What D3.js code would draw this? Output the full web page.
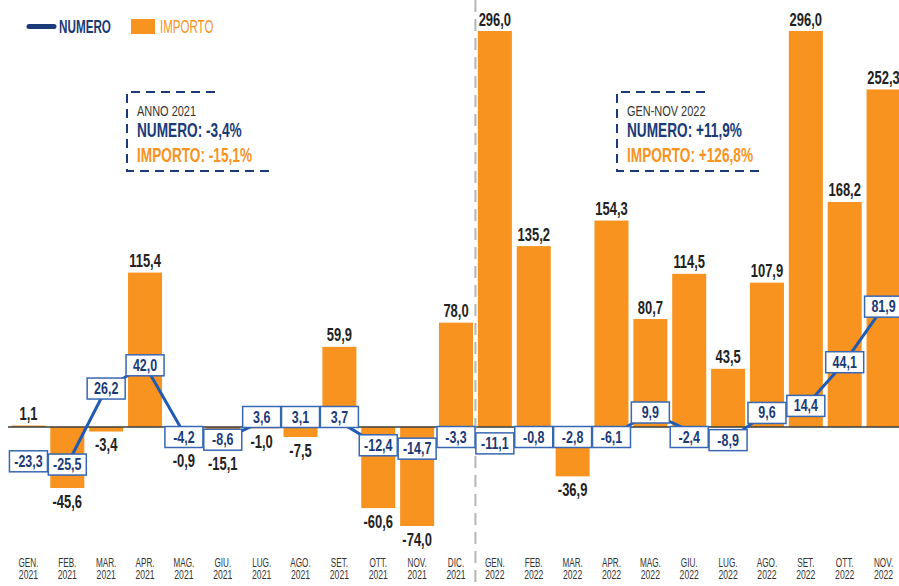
<!DOCTYPE html>
<html>
<head>
<meta charset="utf-8">
<script src="https://cdn.jsdelivr.net/npm/d3@7"></script>
<style>
  body { margin: 0; background: #fff; }
  svg { display: block; font-family: "Liberation Sans", Arial, sans-serif; }
</style>
</head>
<body>
<svg id="chart"></svg>
<script>
// size
const width = 899;
const height = 586;

// data
const mesi = ["GEN.", "FEB.", "MAR.", "APR.", "MAG.", "GIU.", "LUG.", "AGO.", "SET.", "OTT.", "NOV.", "DIC.",
              "GEN.", "FEB.", "MAR.", "APR.", "MAG.", "GIU.", "LUG.", "AGO.", "SET.", "OTT.", "NOV."];
const anni = ["2021", "2021", "2021", "2021", "2021", "2021", "2021", "2021", "2021", "2021", "2021", "2021",
              "2022", "2022", "2022", "2022", "2022", "2022", "2022", "2022", "2022", "2022", "2022"];
const importo = [1.1, -45.6, -3.4, 115.4, -0.9, -15.1, -1.0, -7.5, 59.9, -60.6, -74.0, 78.0,
                 296.0, 135.2, -36.9, 154.3, 80.7, 114.5, 43.5, 107.9, 296.0, 168.2, 252.3];
const numero = [-23.3, -25.5, 26.2, 42.0, -4.2, -8.6, 3.6, 3.1, 3.7, -12.4, -14.7, -3.3,
                -11.1, -0.8, -2.8, -6.1, 9.9, -2.4, -8.9, 9.6, 14.4, 44.1, 81.9];
const riepilogoTitoli = ["ANNO 2021", "GEN-NOV 2022"];
const riepilogoNumero = ["NUMERO: -3,4%", "NUMERO: +11,9%"];
const riepilogoImporto = ["IMPORTO: -15,1%", "IMPORTO: +126,8%"];

// colours
const orange = "#f7931e";
const navy = "#1b3a78";
const blue = "#1f5bb5";

// italian number format
const it = d3.formatLocale({ decimal: ",", thousands: ".", grouping: [3], currency: ["", "€"], minus: "-" });
const fmt = it.format(".1f");

// squeeze texts horizontally to mimic the condensed font
function squash(sel, k) {
    sel.each(function() {
        const t = d3.select(this);
        const tx = +t.attr("x") || 0;
        const ty = +t.attr("y") || 0;
        t.attr("x", 0).attr("y", 0)
         .attr("transform", `translate(${tx},${ty}) scale(${k},1)`);
    });
}

const svg = d3.select("#chart")
    .attr("width", width)
    .attr("height", height);

// scales
const idx = d3.range(mesi.length);
const x = d3.scaleBand()
    .domain(idx)
    .range([9, 903])
    .paddingInner(0.125)
    .paddingOuter(0.0625);
const yImp = d3.scaleLinear().domain([-74, 296]).range([526, 31]);
const yNum = d3.scaleLinear().domain([-67.3, 269.4]).range([526, 31]);
const y0 = yImp(0);
const cx = i => x(i) + x.bandwidth() / 2;

// box centre for the numero labels
const boxH = 21;
const boxY = i => {
    const y = yNum(numero[i]);
    if (Math.abs(y - y0) < 10) return numero[i] < 0 ? y0 + 10 : y0 - 10;
    return y;
};

// bars
svg.append("g")
    .selectAll("rect")
    .data(idx)
    .join("rect")
    .attr("x", i => x(i))
    .attr("width", x.bandwidth())
    .attr("y", i => Math.min(yImp(importo[i]), y0))
    .attr("height", i => Math.abs(yImp(importo[i]) - y0))
    .attr("fill", orange);

// zero line
svg.append("line")
    .attr("x1", 8).attr("x2", width)
    .attr("y1", y0).attr("y2", y0)
    .attr("stroke", "#3d3d3d")
    .attr("stroke-width", 1.6);

// separator between years
const sepX = (x(11) + x.bandwidth() + x(12)) / 2;
svg.append("line")
    .attr("x1", sepX).attr("x2", sepX)
    .attr("y1", 0).attr("y2", height)
    .attr("stroke", "#b5b5b5")
    .attr("stroke-width", 2)
    .attr("stroke-dasharray", "12,7");

// importo labels
svg.append("g")
    .selectAll("text")
    .data(idx)
    .join("text")
    .attr("x", cx)
    .attr("y", i => {
        const v = importo[i];
        if (v >= 0) return yImp(v) - 12 + 6.5;
        let bottom = yImp(v);
        if (numero[i] < 0) bottom = Math.max(bottom, boxY(i) + boxH / 2);
        return bottom + 13 + 6.5;
    })
    .attr("text-anchor", "middle")
    .attr("font-size", 18)
    .attr("font-weight", "bold")
    .attr("fill", "#222")
    .text(i => fmt(importo[i]))
    .call(squash, 0.72);

// numero line
const line = d3.line()
    .x(i => cx(i))
    .y(i => yNum(numero[i]));
svg.append("path")
    .datum(idx)
    .attr("d", line)
    .attr("fill", "none")
    .attr("stroke", blue)
    .attr("stroke-width", 3)
    .attr("stroke-linejoin", "round");

// numero boxes
const boxes = svg.append("g")
    .selectAll("g")
    .data(idx)
    .join("g")
    .attr("transform", i => `translate(${cx(i)},${boxY(i)})`);
boxes.append("rect")
    .attr("x", -19).attr("y", -boxH / 2)
    .attr("width", 38).attr("height", boxH)
    .attr("fill", "#fff")
    .attr("stroke", "#3867b3")
    .attr("stroke-width", 1.5);
boxes.append("text")
    .attr("text-anchor", "middle")
    .attr("y", 5.5)
    .attr("font-size", 16)
    .attr("font-weight", "bold")
    .attr("fill", navy)
    .text(i => fmt(numero[i]))
    .call(squash, 0.78);

// x axis labels
const ax = svg.append("g");
ax.selectAll("text.mese")
    .data(idx)
    .join("text")
    .attr("class", "mese")
    .attr("x", cx).attr("y", 567)
    .attr("text-anchor", "middle")
    .attr("font-size", 12)
    .attr("fill", "#333")
    .text(i => mesi[i])
    .call(squash, 0.68);
ax.selectAll("text.anno")
    .data(idx)
    .join("text")
    .attr("class", "anno")
    .attr("x", cx).attr("y", 579)
    .attr("text-anchor", "middle")
    .attr("font-size", 12)
    .attr("fill", "#333")
    .text(i => anni[i])
    .call(squash, 0.72);

// summary boxes
[127, 617].forEach((bx, j) => {
    const g = svg.append("g").attr("transform", `translate(${bx},92)`);
    g.append("path")
        .attr("d", "M88,0 H0 V79 H148")
        .attr("fill", "none")
        .attr("stroke", navy)
        .attr("stroke-width", 2)
        .attr("stroke-dasharray", "9,6");
    g.append("text").attr("x", 10).attr("y", 24)
        .attr("font-size", 15).attr("fill", "#333")
        .text(riepilogoTitoli[j]).call(squash, 0.73);
    g.append("text").attr("x", 10).attr("y", 45)
        .attr("font-size", 19.5).attr("font-weight", "bold").attr("fill", navy)
        .text(riepilogoNumero[j]).call(squash, 0.7);
    g.append("text").attr("x", 10).attr("y", 70)
        .attr("font-size", 19.5).attr("font-weight", "bold").attr("fill", orange)
        .text(riepilogoImporto[j]).call(squash, 0.7);
});

// legend
const legend = svg.append("g");
legend.append("line")
    .attr("x1", 29).attr("x2", 54)
    .attr("y1", 26.5).attr("y2", 26.5)
    .attr("stroke", navy)
    .attr("stroke-width", 5)
    .attr("stroke-linecap", "round");
legend.append("text")
    .attr("x", 59).attr("y", 33)
    .attr("font-size", 18).attr("font-weight", "bold")
    .attr("fill", navy).text("NUMERO")
    .call(squash, 0.65);
legend.append("rect")
    .attr("x", 131).attr("y", 19)
    .attr("width", 24).attr("height", 15)
    .attr("fill", orange);
legend.append("text")
    .attr("x", 160).attr("y", 33)
    .attr("font-size", 18)
    .attr("fill", orange).text("IMPORTO")
    .call(squash, 0.64);
</script>
</body>
</html>
